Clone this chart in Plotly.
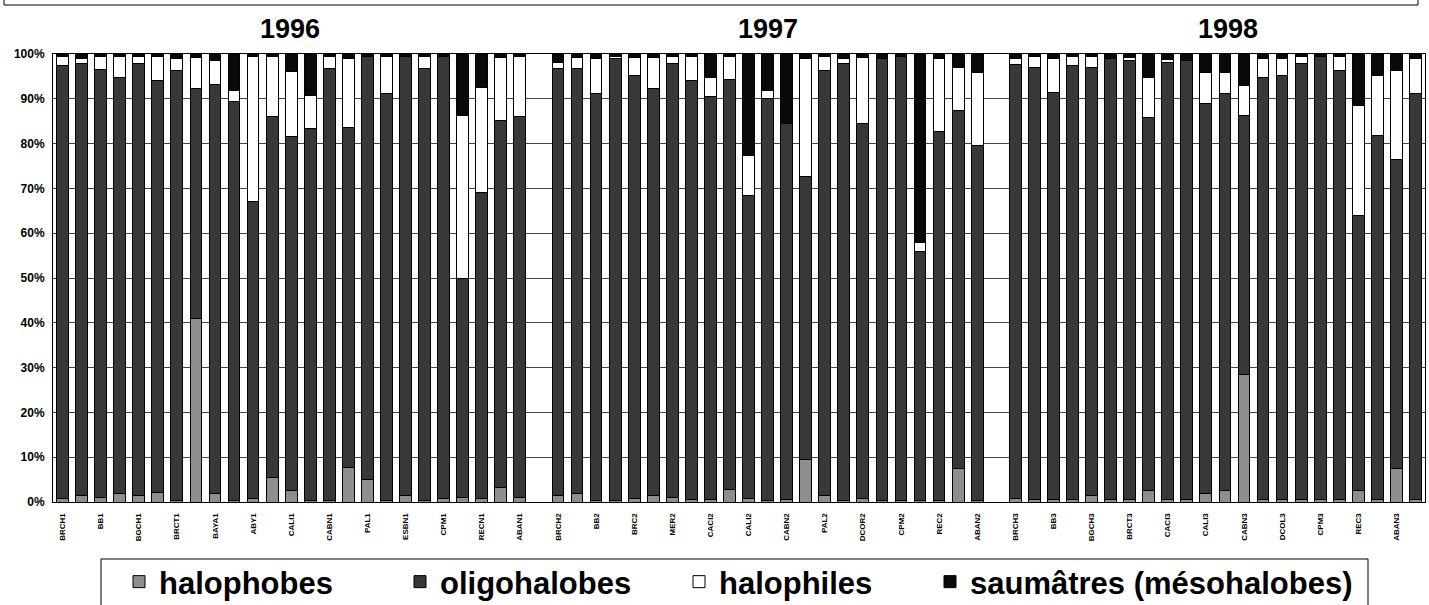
import plotly.graph_objects as go

# ---------------- data ----------------
years = ["1996", "1997", "1998"]

stations_1996 = ["BRCH1", "BRCB1", "BB1", "BBS1", "BGCH1", "BGCB1", "BRCT1", "BRCS1",
                 "BAYA1", "BAYB1", "ABY1", "ABYS1", "CALI1", "CALS1", "CABN1", "CABS1",
                 "PAL1", "PALS1", "ESBN1", "ESBS1", "CPM1", "CPMS1", "RECN1", "RECS1", "ABAN1"]
stations_1997 = ["BRCH2", "BRCB2", "BB2", "BBS2", "BRC2", "BRCS2", "MER2", "MERS2",
                 "CACI2", "CACS2", "CALI2", "CALS2", "CABN2", "CABS2", "PAL2", "PALS2",
                 "DCOR2", "DCOS2", "CPM2", "CPMS2", "REC2", "RECS2", "ABAN2"]
stations_1998 = ["BRCH3", "BRCB3", "BB3", "BBS3", "BGCH3", "BGCS3", "BRCT3", "BRCS3",
                 "CACI3", "CACS3", "CALI3", "CALS3", "CABN3", "CABS3", "DCOL3", "DCOS3",
                 "CPM3", "CPMS3", "REC3", "RECS3", "ABAN3", "ABAS3"]

halophobes_1996 = [0.7, 1.5, 1.1, 1.8, 1.5, 2.2, 0.3, 41.0, 1.8, 0.3, 0.7, 5.5, 2.5,
                   0.3, 0.3, 7.8, 5.0, 0.3, 1.5, 0.3, 0.7, 1.1, 0.7, 3.3, 1.1]
oligohalobes_1996 = [96.7, 96.3, 95.4, 93.0, 96.3, 91.8, 96.1, 51.2, 91.5, 89.0, 66.3, 80.5, 79.0,
                     83.0, 96.4, 75.9, 94.5, 90.8, 98.0, 96.4, 98.8, 48.9, 68.3, 81.9, 84.9]
halophiles_1996 = [2.1, 1.2, 3.0, 4.7, 1.7, 5.5, 2.6, 7.0, 5.2, 2.6, 32.4, 13.5, 14.5,
                   7.4, 2.8, 15.3, 0.0, 8.3, 0.0, 2.8, 0.0, 36.3, 23.6, 14.0, 13.5]
saumatres_1996 = [0.5, 1.0, 0.5, 0.5, 0.5, 0.5, 1.0, 0.8, 1.5, 8.1, 0.6, 0.5, 4.0,
                  9.3, 0.5, 1.0, 0.5, 0.6, 0.5, 0.5, 0.5, 13.7, 7.4, 0.8, 0.5]

halophobes_1997 = [1.5, 1.8, 0.3, 0.3, 0.7, 1.5, 1.1, 0.5, 0.5, 2.7, 0.7, 0.3, 0.5,
                   9.5, 1.5, 0.3, 0.7, 0.3, 0.3, 0.3, 0.3, 7.4, 0.3]
oligohalobes_1997 = [95.2, 94.9, 90.8, 98.6, 94.5, 90.7, 96.7, 93.5, 90.0, 91.5, 67.8, 89.7, 83.9,
                     63.1, 94.9, 97.5, 83.7, 98.7, 99.2, 55.7, 82.3, 80.0, 79.3]
halophiles_1997 = [1.4, 2.6, 8.0, 0.5, 4.0, 7.0, 1.6, 5.5, 4.3, 5.3, 8.9, 1.9, 0.0,
                   26.3, 3.0, 1.1, 14.8, 0.0, 0.0, 2.0, 16.3, 9.6, 16.3]
saumatres_1997 = [1.9, 0.7, 0.9, 0.6, 0.8, 0.8, 0.6, 0.5, 5.2, 0.5, 22.6, 8.1, 15.6,
                  1.1, 0.6, 1.1, 0.8, 1.0, 0.5, 42.0, 1.1, 3.0, 4.1]

halophobes_1998 = [0.7, 0.5, 0.5, 0.5, 1.5, 0.5, 0.5, 2.5, 0.5, 0.5, 2.0, 2.5, 28.5,
                   0.5, 0.5, 0.5, 0.5, 0.5, 2.5, 0.5, 7.5, 0.5]
oligohalobes_1998 = [96.9, 96.5, 91.0, 96.9, 95.5, 98.5, 98.0, 83.4, 97.5, 98.0, 86.9, 88.6, 57.8,
                     94.3, 94.7, 97.3, 99.0, 95.9, 61.5, 81.4, 69.0, 90.6]
halophiles_1998 = [1.3, 2.5, 7.5, 2.0, 2.5, 0.0, 0.8, 8.9, 0.7, 0.0, 7.0, 4.8, 6.7,
                   4.3, 3.8, 1.6, 0.0, 3.0, 24.5, 13.3, 19.8, 7.9]
saumatres_1998 = [1.1, 0.5, 1.0, 0.6, 0.5, 1.0, 0.7, 5.2, 1.3, 1.5, 4.1, 4.1, 7.0,
                  0.9, 1.0, 0.6, 0.5, 0.6, 11.5, 4.8, 3.7, 1.0]

series_names = ["halophobes", "oligohalobes", "halophiles", "saumâtres (mésohalobes)"]
series_colors = ["#8e8e8e", "#383838", "#ffffff", "#0a0a0a"]

# ---------------- assemble (empty slot between years) ----------------
gaps = [" ", "  "]
x = stations_1996 + [gaps[0]] + stations_1997 + [gaps[1]] + stations_1998


def join(a, b, c):
    return a + [None] + b + [None] + c


series_values = [
    join(halophobes_1996, halophobes_1997, halophobes_1998),
    join(oligohalobes_1996, oligohalobes_1997, oligohalobes_1998),
    join(halophiles_1996, halophiles_1997, halophiles_1998),
    join(saumatres_1996, saumatres_1997, saumatres_1998),
]

tick_stations = stations_1996[::2] + stations_1997[::2] + stations_1998[::2]

W, H = 1429, 605
ML, MR, MT, MB = 53, 4, 54, 103
PW, PH = W - ML - MR, H - MT - MB


def px_x(p):
    return (p - ML) / PW


def px_y(p):
    return (H - MB - p) / PH


FONT = "Liberation Sans, Arial, sans-serif"
legend_ids = ["legend", "legend2", "legend3", "legend4"]
legend_text_x = [160, 441, 720, 971]

fig = go.Figure()
for name, col, vals, lid in zip(series_names, series_colors, series_values, legend_ids):
    fig.add_trace(go.Bar(
        x=x, y=vals, name=name, legend=lid,
        marker=dict(color=col, line=dict(color="#000000", width=1)),
    ))

layout_legends = {}
for lid, tx in zip(legend_ids, legend_text_x):
    layout_legends[lid] = dict(
        orientation="h", x=px_x(tx - 41), xanchor="left", y=px_y(555), yanchor="top",
        font=dict(family=FONT, size=31, color="#000", weight="bold"),
        bgcolor="rgba(0,0,0,0)", borderwidth=0,
    )

fig.update_layout(
    width=W, height=H,
    margin=dict(l=ML, r=MR, t=MT, b=MB, autoexpand=False),
    barmode="stack", barnorm="percent", bargap=0.38,
    paper_bgcolor="white", plot_bgcolor="white",
    font=dict(family=FONT, color="#000"),
    showlegend=True,
    xaxis=dict(
        type="category", categoryorder="array", categoryarray=x,
        range=[-0.5, len(x) - 0.5],
        tickmode="array", tickvals=tick_stations, ticktext=tick_stations,
        tickangle=-90, tickfont=dict(size=8, weight="bold", color="#000"),
        ticklabelstandoff=7,
        showgrid=False, showline=True, linecolor="#000", linewidth=1, mirror=True,
        ticks="",
    ),
    yaxis=dict(
        range=[0, 100], dtick=10, ticksuffix="%",
        tickfont=dict(size=12, weight="bold", color="#000", family=FONT),
        ticklabelstandoff=5,
        showgrid=True, gridcolor="#444", gridwidth=1,
        showline=True, linecolor="#000", linewidth=1, mirror=True,
        ticks="", zeroline=False,
    ),
    **layout_legends,
)

# year titles
year_centers = [290, 768, 1228]
for yr, cx in zip(years, year_centers):
    fig.add_annotation(
        text=yr, xref="paper", yref="paper", x=px_x(cx), y=px_y(29),
        xanchor="center", yanchor="middle", showarrow=False,
        font=dict(family=FONT, size=27, weight="bold", color="#000"),
    )

# legend frame and top frame
fig.add_shape(type="rect", xref="paper", yref="paper",
              x0=px_x(101), x1=px_x(1368), y0=px_y(640), y1=px_y(559),
              line=dict(color="#000", width=1), fillcolor="rgba(0,0,0,0)")
fig.add_shape(type="rect", xref="paper", yref="paper",
              x0=px_x(4), x1=px_x(1418), y0=px_y(5), y1=px_y(-20),
              line=dict(color="#000", width=1), fillcolor="rgba(0,0,0,0)")

fig.write_html("out.html",
               config={"displayModeBar": False},
               post_script="document.body.style.margin='0';document.body.style.overflow='hidden';")
